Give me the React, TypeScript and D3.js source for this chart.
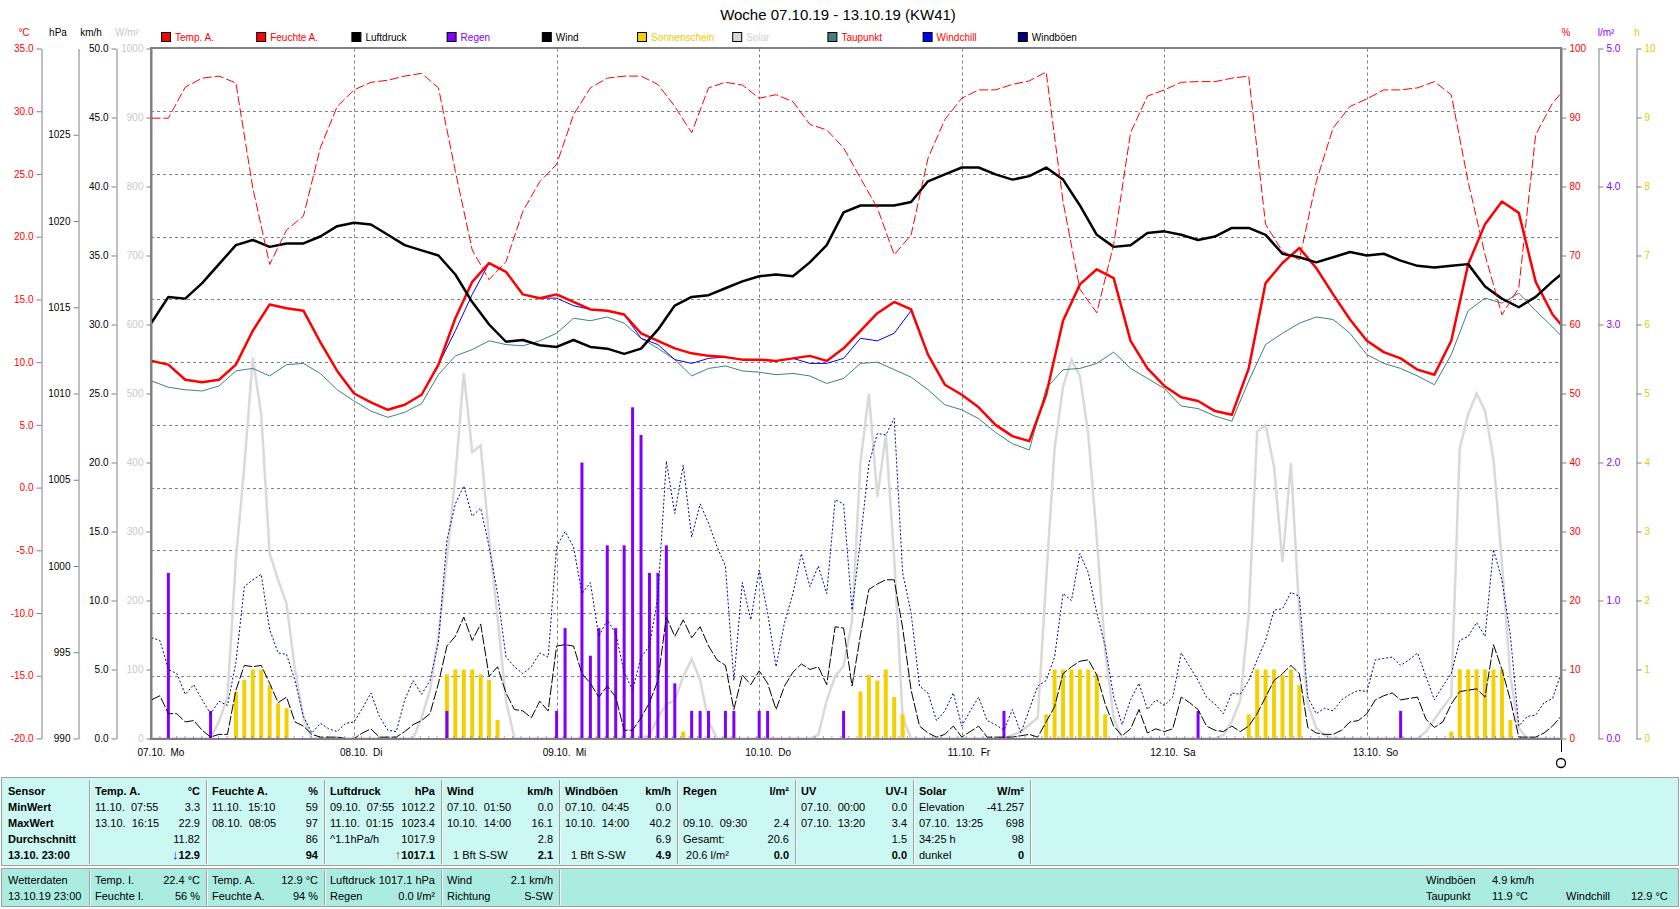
import React, { useRef, useEffect } from 'react';
import * as d3 from 'd3';

// time axis: hours since 07.10. 00:00 (last sample 23:00 on 13.10.)
const HOURS = [...d3.range(0, 168, 2), 167];
const HOURS_1H = d3.range(0, 168);
const DAY_DATES = ['07.10.', '08.10.', '09.10.', '10.10.', '11.10.', '12.10.', '13.10.'];
const DAY_NAMES = ['Mo', 'Di', 'Mi', 'Do', 'Fr', 'Sa', 'So'];

// 2-hourly series
const TEMP = [
    10.1, 9.8, 8.6, 8.4, 8.6, 9.8, 12.5, 14.6, 14.3, 14.1,
    11.6, 9.3, 7.5, 6.8, 6.2, 6.6, 7.4, 9.8, 13.5, 16.4,
    17.9, 17.2, 15.4, 15.1, 15.4, 14.8, 14.2, 14.1, 13.8, 12.3,
    11.7, 11.1, 10.7, 10.5, 10.4, 10.2, 10.2, 10.1, 10.3, 10.5,
    10.1, 11.1, 12.5, 13.9, 14.8, 14.2, 10.6, 8.2, 7.4, 6.4,
    5.0, 4.1, 3.7, 7.4, 13.3, 16.2, 17.4, 16.7, 11.7, 9.5,
    8.1, 7.2, 6.9, 6.1, 5.8, 9.5, 16.3, 17.9, 19.1, 17.5,
    15.4, 13.4, 11.7, 10.8, 10.3, 9.4, 9.0, 11.7, 17.8, 21.0,
    22.8, 21.9, 16.4, 13.8, 13.0,
];
const WINDCHILL = [
    10.1, 9.8, 8.6, 8.4, 8.6, 9.8, 12.5, 14.6, 14.3, 14.1,
    11.6, 9.3, 7.5, 6.8, 6.2, 6.6, 7.4, 9.8, 12.5, 15.4,
    17.9, 17.2, 15.4, 15.1, 15.1, 14.5, 14.2, 14.1, 13.8, 11.9,
    11.4, 10.2, 9.9, 10.3, 10.4, 10.2, 10.2, 10.1, 10.3, 9.9,
    9.9, 10.3, 11.9, 11.7, 12.3, 14.1, 10.6, 8.2, 7.4, 6.4,
    5.0, 4.1, 3.7, 7.4, 13.3, 16.2, 17.4, 16.7, 11.7, 9.5,
    8.1, 7.2, 6.9, 6.1, 5.8, 9.5, 16.3, 17.9, 19.1, 17.5,
    15.4, 13.4, 11.7, 10.8, 10.3, 9.4, 9.0, 11.7, 17.8, 21.0,
    22.8, 21.9, 16.4, 13.8, 13.0,
];
const DEWPOINT = [
    8.5, 8.0, 7.8, 7.7, 8.1, 9.3, 9.5, 8.9, 9.8, 9.9,
    9.1, 7.8, 6.9, 6.1, 5.6, 6.0, 6.7, 9.0, 10.5, 11.0,
    11.7, 11.4, 11.3, 11.7, 12.3, 13.5, 13.3, 13.6, 13.1, 11.9,
    11.1, 10.2, 8.9, 9.5, 9.7, 9.3, 9.2, 9.0, 9.1, 8.9,
    8.3, 8.7, 9.9, 10.0, 9.4, 8.8, 7.8, 6.6, 6.2, 5.5,
    4.4, 3.5, 3.0, 7.9, 9.4, 9.5, 9.9, 10.8, 9.5, 8.7,
    7.9, 6.5, 6.3, 5.7, 5.3, 8.5, 11.4, 12.3, 13.1, 13.6,
    13.4, 12.3, 10.6, 9.9, 9.5, 8.9, 8.2, 10.6, 14.1, 15.1,
    14.7, 15.5, 14.1, 12.8, 12.1,
];
const HUMIDITY = [
    89.9, 89.9, 94.4, 95.7, 96.0, 95.0, 79.8, 68.7, 73.7, 75.7,
    85.6, 91.6, 94.0, 95.1, 95.4, 96.0, 96.4, 94.3, 82.2, 70.8,
    66.5, 69.1, 76.4, 80.7, 83.2, 90.4, 94.3, 95.7, 96.0, 96.0,
    94.8, 91.6, 87.8, 94.3, 95.1, 94.7, 92.8, 93.3, 92.3, 89.0,
    88.2, 85.6, 81.2, 76.9, 70.1, 73.0, 84.1, 89.7, 92.8, 94.0,
    94.0, 94.8, 95.3, 96.6, 77.8, 65.1, 61.7, 71.6, 87.8, 93.1,
    94.0, 95.1, 95.2, 95.2, 95.7, 96.0, 74.5, 70.6, 69.4, 80.7,
    88.5, 91.6, 92.7, 94.0, 94.0, 94.3, 95.2, 93.3, 80.7, 70.1,
    61.4, 65.3, 87.5, 92.1, 93.5,
];
const PRESSURE = [
    1014.1, 1015.6, 1015.5, 1016.4, 1017.5, 1018.6, 1018.9, 1018.5, 1018.7, 1018.7,
    1019.1, 1019.7, 1019.9, 1019.8, 1019.2, 1018.6, 1018.3, 1018.0, 1016.9, 1015.3,
    1014.0, 1013.0, 1013.1, 1012.8, 1012.7, 1013.1, 1012.7, 1012.6, 1012.3, 1012.6,
    1013.7, 1015.1, 1015.6, 1015.7, 1016.1, 1016.5, 1016.8, 1016.9, 1016.8, 1017.6,
    1018.6, 1020.5, 1020.9, 1020.9, 1020.9, 1021.1, 1022.3, 1022.7, 1023.1, 1023.1,
    1022.7, 1022.4, 1022.6, 1023.1, 1022.4, 1020.9, 1019.2, 1018.5, 1018.6, 1019.3,
    1019.4, 1019.2, 1018.9, 1019.1, 1019.6, 1019.6, 1019.2, 1018.1, 1017.9, 1017.6,
    1017.9, 1018.2, 1018.0, 1018.1, 1017.7, 1017.4, 1017.3, 1017.4, 1017.5, 1016.2,
    1015.5, 1015.0, 1015.6, 1016.5, 1016.9,
];

// hourly series
const WIND = [
    2.8, 3.1, 1.8, 1.8, 1.2, 1.3, 0.6, 0.1, 0.3, 0.3,
    3.5, 5.3, 5.2, 5.3, 4.0, 2.6, 3.0, 1.2, 0.9, 0.3,
    0.1, 0.1, 0.1, 0.0, 0.0, 0.4, 0.7, 0.1, 0.1, 0.1,
    0.5, 1.0, 1.3, 1.8, 4.0, 6.7, 7.4, 8.8, 7.1, 8.3,
    4.5, 5.2, 3.3, 2.1, 2.0, 1.5, 2.7, 2.0, 6.7, 6.8,
    6.7, 4.7, 4.0, 3.0, 3.8, 3.0, 0.6, 0.6, 1.5, 2.6,
    4.2, 8.8, 7.4, 8.6, 7.3, 8.1, 6.7, 5.7, 5.3, 2.1,
    4.6, 3.9, 4.9, 4.0, 2.1, 3.8, 4.8, 5.4, 5.0, 5.2,
    3.9, 8.1, 8.0, 3.8, 7.5, 10.8, 11.2, 11.5, 11.5, 8.0,
    3.5, 0.9, 0.4, 0.1, 0.3, 0.9, 0.1, 0.5, 0.9, 0.1,
    0.1, 0.1, 0.1, 0.2, 0.3, 0.1, 1.2, 2.3, 4.7, 5.2,
    5.6, 5.7, 4.6, 2.5, 0.9, 0.2, 0.7, 2.1, 0.4, 0.7,
    0.5, 0.7, 3.0, 2.6, 2.1, 0.9, 0.6, 0.5, 0.9, 0.5,
    0.9, 1.8, 3.0, 4.2, 4.7, 5.3, 4.7, 0.8, 0.4, 0.3,
    0.3, 0.6, 1.2, 1.3, 1.8, 2.8, 3.1, 3.3, 2.8, 2.9,
    3.0, 1.4, 0.8, 1.2, 2.5, 3.4, 3.5, 3.6, 3.0, 6.8,
    5.0, 2.8, 0.1, 0.1, 0.1, 0.4, 0.9, 1.6,
];
const GUSTS = [
    7.3, 7.1, 5.0, 4.7, 3.2, 3.9, 2.8, 1.8, 2.7, 2.4,
    5.5, 11.0, 11.5, 11.9, 7.9, 6.2, 6.1, 4.2, 1.6, 0.4,
    1.1, 0.7, 0.5, 1.1, 1.2, 2.2, 3.3, 1.6, 0.6, 0.5,
    2.8, 4.2, 3.2, 4.2, 7.0, 14.4, 17.0, 18.3, 16.1, 16.7,
    13.9, 10.5, 5.9, 5.2, 4.7, 5.2, 6.2, 5.9, 13.9, 15.0,
    13.9, 10.5, 11.3, 7.4, 8.6, 7.6, 4.8, 3.5, 5.9, 6.7,
    10.3, 20.1, 16.3, 19.8, 14.6, 17.0, 15.6, 13.9, 12.5, 4.2,
    11.3, 8.6, 12.2, 9.1, 5.2, 8.4, 10.5, 13.4, 11.0, 12.5,
    10.5, 17.3, 17.0, 9.3, 14.4, 19.9, 22.1, 22.0, 23.2, 12.0,
    9.1, 3.8, 3.3, 1.3, 2.0, 3.3, 0.9, 2.0, 3.0, 1.3,
    1.0, 0.6, 2.1, 0.4, 2.1, 3.8, 4.2, 5.9, 10.5, 10.0,
    13.4, 12.0, 9.1, 6.7, 3.0, 1.0, 2.8, 4.0, 2.1, 2.8,
    2.4, 3.0, 6.2, 5.2, 4.2, 3.0, 2.5, 1.8, 3.3, 3.2,
    4.2, 5.7, 7.1, 9.3, 9.4, 10.6, 10.3, 3.0, 1.8, 2.2,
    2.0, 2.8, 3.2, 3.5, 3.4, 5.7, 5.8, 5.9, 5.3, 5.7,
    6.2, 4.5, 2.8, 3.8, 4.7, 7.1, 7.4, 8.4, 7.4, 13.7,
    11.5, 7.5, 0.9, 1.6, 1.7, 2.6, 2.9, 4.7,
];

// [hour, W/m²]
const SOLAR: [number, number][] = [
    [0, 0], [7, 0], [8, 25], [9, 60], [10, 260], [11, 395], [12, 552], [13, 470], [14, 268],
    [15, 230], [16, 195], [17, 100], [18, 30], [19, 0],
    [31, 0], [32, 30], [33, 70], [34, 150], [35, 260], [36, 380], [37, 530], [38, 415],
    [39, 425], [40, 290], [41, 175], [42, 55], [43, 0],
    [58, 0], [59, 5], [60, 30], [61, 50], [62, 55], [63, 90], [64, 115], [65, 85], [66, 25], [67, 0],
    [78, 0], [79, 5], [80, 55], [81, 90], [82, 105], [83, 170], [84, 400], [85, 500], [86, 350],
    [87, 440], [88, 260], [89, 30], [90, 0],
    [101, 0], [102, 5], [103, 10], [104, 20], [105, 30], [106, 230], [107, 420], [108, 510],
    [109, 549], [110, 525], [111, 440], [112, 290], [113, 125], [114, 30], [115, 0],
    [126, 0], [127, 5], [128, 25], [129, 55], [130, 180], [131, 445], [132, 454], [133, 394],
    [134, 256], [135, 399], [136, 180], [137, 50], [138, 15], [139, 5], [140, 0],
    [150, 0], [151, 10], [152, 28], [153, 45], [154, 61], [155, 420], [156, 470], [157, 500],
    [158, 475], [159, 405], [160, 255], [161, 90], [162, 15], [163, 0], [167, 0],
];
// [hour, l/m²]
const RAIN: [number, number][] = [
    [2, 1.2], [7, 0.2], [35, 0.2], [48, 0.2], [49, 0.8], [51, 2.0], [52, 0.6], [53, 0.8],
    [54, 1.4], [55, 0.8], [56, 1.4], [57, 2.4], [58, 2.2], [59, 1.2], [60, 1.2], [61, 1.4],
    [62, 0.4], [64, 0.2], [65, 0.2], [66, 0.2], [68, 0.2], [69, 0.2], [72, 0.2], [73, 0.2],
    [82, 0.2], [101, 0.2], [124, 0.2], [148, 0.2],
];
// [hour, h of sunshine]
const SUNSHINE: [number, number][] = [
    [10, 0.68], [11, 0.85], [12, 1.0], [13, 1.0], [14, 0.77], [15, 0.51], [16, 0.44],
    [35, 0.93], [36, 1.0], [37, 1.0], [38, 1.0], [39, 0.93], [40, 0.85], [41, 0.27],
    [63, 0.1],
    [84, 0.68], [85, 0.92], [86, 0.84], [87, 1.0], [88, 0.6], [89, 0.35],
    [106, 0.35], [107, 1.0], [108, 1.0], [109, 1.0], [110, 1.0], [111, 1.0], [112, 0.93], [113, 0.35],
    [130, 0.35], [131, 1.0], [132, 1.0], [133, 1.0], [134, 0.92], [135, 1.0], [136, 0.77],
    [154, 0.1], [155, 1.0], [156, 1.0], [157, 1.0], [158, 1.0], [159, 1.0], [160, 1.0], [161, 0.27],
];

const TEMP_TICKS = [-20, -15, -10, -5, 0, 5, 10, 15, 20, 25, 30, 35];
const HPA_TICKS = [990, 995, 1000, 1005, 1010, 1015, 1020, 1025];
const KMH_TICKS = [0, 5, 10, 15, 20, 25, 30, 35, 40, 45, 50];
const SOLAR_TICKS = [0, 100, 200, 300, 400, 500, 600, 700, 800, 900, 1000];
const PCT_TICKS = [0, 10, 20, 30, 40, 50, 60, 70, 80, 90, 100];
const RAIN_TICKS = [0, 1, 2, 3, 4, 5];
const SUN_TICKS = [0, 1, 2, 3, 4, 5, 6, 7, 8, 9, 10];

const LEGEND_LABELS = ['Temp. A.', 'Feuchte A.', 'Luftdruck', 'Regen', 'Wind', 'Sonnenschein', 'Solar', 'Taupunkt', 'Windchill', 'Windböen'];
const LEGEND_BOX = ['#ff0000', '#ff0000', '#000000', '#8000ff', '#000000', '#f5d000', '#d8d8d8', '#408080', '#0000ff', '#000080'];
const LEGEND_TEXT = ['#ff0000', '#ff0000', '#000000', '#8000ff', '#000000', '#f0c800', '#d0d0d0', '#ff0000', '#ff0000', '#000000'];

const TABLE_ROWS: [string, string][][] = [
    [['Sensor', ''], ['Temp. A.', '°C'], ['Feuchte A.', '%'], ['Luftdruck', 'hPa'], ['Wind', 'km/h'], ['Windböen', 'km/h'], ['Regen', 'l/m²'], ['UV', 'UV-I'], ['Solar', 'W/m²']],
    [['MinWert', ''], ['11.10.  07:55', '3.3'], ['11.10.  15:10', '59'], ['09.10.  07:55', '1012.2'], ['07.10.  01:50', '0.0'], ['07.10.  04:45', '0.0'], ['', ''], ['07.10.  00:00', '0.0'], ['Elevation', '-41.257']],
    [['MaxWert', ''], ['13.10.  16:15', '22.9'], ['08.10.  08:05', '97'], ['11.10.  01:15', '1023.4'], ['10.10.  14:00', '16.1'], ['10.10.  14:00', '40.2'], ['09.10.  09:30', '2.4'], ['07.10.  13:20', '3.4'], ['07.10.  13:25', '698']],
    [['Durchschnitt', ''], ['', '11.82'], ['', '86'], ['^1.1hPa/h', '1017.9'], ['', '2.8'], ['', '6.9'], ['Gesamt:', '20.6'], ['', '1.5'], ['34:25 h', '98']],
    [['13.10. 23:00', ''], ['', '↓12.9'], ['', '94'], ['', '↑1017.1'], ['  1 Bft S-SW', '2.1'], ['  1 Bft S-SW', '4.9'], [' 20.6 l/m²', '0.0'], ['', '0.0'], ['dunkel', '0']],
];
const INFO_ROWS: [string, string][][] = [
    [['Wetterdaten', ''], ['Temp. I.', '22.4 °C'], ['Temp. A.', '12.9 °C'], ['Luftdruck', '1017.1 hPa'], ['Wind', '2.1 km/h']],
    [['13.10.19 23:00', ''], ['Feuchte I.', '56 %'], ['Feuchte A.', '94 %'], ['Regen', '0.0 l/m²'], ['Richtung', 'S-SW']],
];
const INFO_RIGHT = [['Windböen', '4.9 km/h'], ['Taupunkt', '11.9 °C'], ['Windchill', '12.9 °C']];

const FONT = '"Liberation Sans", Arial, sans-serif';

const App: React.FC = () => {
    const svgRef = useRef<SVGSVGElement | null>(null);

    useEffect(() => {
        if (!svgRef.current) return;
        const svg = d3.select(svgRef.current);
        svg.selectAll('*').remove();

        const left = 151;
        const right = 1561;
        const top = 48.5;
        const bottom = 738.5;

        const x = d3.scaleLinear().domain([0, 167]).range([151.5, 1561]);
        const yTemp = d3.scaleLinear().domain([-20, 35]).range([bottom, top]);
        const yHpa = d3.scaleLinear().domain([990, 1030]).range([bottom, top]);
        const yKmh = d3.scaleLinear().domain([0, 50]).range([bottom, top]);
        const ySolar = d3.scaleLinear().domain([0, 1000]).range([bottom, top]);
        const yPct = d3.scaleLinear().domain([0, 100]).range([bottom, top]);
        const yRain = d3.scaleLinear().domain([0, 5]).range([bottom, top]);
        const ySun = d3.scaleLinear().domain([0, 10]).range([bottom, top]);

        svg.append('rect').attr('width', 1680).attr('height', 909).attr('fill', '#ffffff');

        // title
        svg.append('text')
            .attr('x', 838)
            .attr('y', 20)
            .attr('text-anchor', 'middle')
            .attr('font-family', FONT)
            .attr('font-size', 15)
            .text('Woche 07.10.19 - 13.10.19 (KW41)');

        // unit headers
        const units: [string, number, string][] = [
            ['°C', 24, '#ff0000'], ['hPa', 58, '#000000'], ['km/h', 91, '#000000'], ['W/m²', 127, '#c8c8c8'],
            ['%', 1566, '#ff0000'], ['l/m²', 1606, '#8000ff'], ['h', 1637, '#f0c800'],
        ];
        units.forEach(([t, ux, c]) => {
            svg.append('text')
                .attr('x', ux).attr('y', 36)
                .attr('text-anchor', 'middle')
                .attr('font-family', FONT).attr('font-size', 10)
                .attr('fill', c)
                .text(t);
        });

        // legend
        LEGEND_LABELS.forEach((label, i) => {
            const lx = 161 + i * 95.2;
            svg.append('rect')
                .attr('x', lx + 0.5).attr('y', 32.5)
                .attr('width', 9).attr('height', 9)
                .attr('fill', LEGEND_BOX[i])
                .attr('stroke', '#000000').attr('stroke-width', 1);
            svg.append('text')
                .attr('x', lx + 14).attr('y', 41)
                .attr('font-family', FONT).attr('font-size', 10)
                .attr('fill', LEGEND_TEXT[i])
                .text(label);
        });

        // grid
        const grid = svg.append('g')
            .attr('stroke', '#808080')
            .attr('stroke-width', 1)
            .attr('stroke-dasharray', '3 3');
        TEMP_TICKS.slice(1, -1).forEach((t) => {
            const gy = Math.round(yTemp(t)) + 0.5;
            grid.append('line').attr('x1', left).attr('x2', right).attr('y1', gy).attr('y2', gy);
        });
        DAY_DATES.slice(1).forEach((_, i) => {
            const gx = Math.round(x(24 * (i + 1))) + 0.5;
            grid.append('line').attr('x1', gx).attr('x2', gx).attr('y1', top).attr('y2', bottom);
        });

        // axes
        const axisAt = (axis: d3.Axis<d3.NumberValue>, ax: number, color: string) => {
            const g = svg.append('g').attr('transform', `translate(${ax},0)`).call(axis);
            g.select('.domain').attr('stroke', '#808080');
            g.selectAll('.tick line').attr('stroke', '#808080');
            g.selectAll('text')
                .attr('fill', color)
                .attr('font-family', FONT)
                .attr('font-size', 10);
        };
        axisAt(d3.axisLeft(yTemp).tickValues(TEMP_TICKS).tickFormat((d) => (+d).toFixed(1)).tickSize(5).tickSizeOuter(0), 41.5, '#ff0000');
        axisAt(d3.axisLeft(yHpa).tickValues(HPA_TICKS).tickFormat((d) => String(d)).tickSize(5).tickSizeOuter(0), 78.5, '#000000');
        axisAt(d3.axisLeft(yKmh).tickValues(KMH_TICKS).tickFormat((d) => (+d).toFixed(1)).tickSize(5).tickSizeOuter(0), 116.5, '#000000');
        axisAt(d3.axisLeft(ySolar).tickValues(SOLAR_TICKS).tickFormat((d) => String(d)).tickSize(5).tickSizeOuter(0), 151.5, '#c8c8c8');
        axisAt(d3.axisRight(yPct).tickValues(PCT_TICKS).tickFormat((d) => String(d)).tickSize(5).tickSizeOuter(0), 1561.5, '#ff0000');
        axisAt(d3.axisRight(yRain).tickValues(RAIN_TICKS).tickFormat((d) => (+d).toFixed(1)).tickSize(5).tickSizeOuter(0), 1598.5, '#8000ff');
        axisAt(d3.axisRight(ySun).tickValues(SUN_TICKS).tickFormat((d) => String(d)).tickSize(5).tickSizeOuter(0), 1636.5, '#f0c800');

        // x labels
        DAY_DATES.forEach((d, i) => {
            const dx = x(24 * i);
            svg.append('text')
                .attr('x', dx - 14).attr('y', 756)
                .attr('font-family', FONT).attr('font-size', 10)
                .text(d);
            svg.append('text')
                .attr('x', dx + 19).attr('y', 756)
                .attr('font-family', FONT).attr('font-size', 10)
                .text(DAY_NAMES[i]);
        });

        const plot = svg.append('g');

        // solar
        plot.append('path')
            .datum(SOLAR)
            .attr('fill', 'none')
            .attr('stroke', '#d9d9d9')
            .attr('stroke-width', 2.5)
            .attr('d', d3.line<[number, number]>().x((d) => x(d[0])).y((d) => ySolar(d[1])));

        // sunshine bars
        plot.selectAll('.sun')
            .data(SUNSHINE)
            .enter()
            .append('rect')
            .attr('class', 'sun')
            .attr('x', (d) => x(d[0]) - 2)
            .attr('width', 4)
            .attr('y', (d) => ySun(d[1]))
            .attr('height', (d) => bottom - ySun(d[1]))
            .attr('fill', '#f5d000');

        // rain bars
        plot.selectAll('.rain')
            .data(RAIN)
            .enter()
            .append('rect')
            .attr('class', 'rain')
            .attr('x', (d) => x(d[0]) - 1.5)
            .attr('width', 3)
            .attr('y', (d) => yRain(d[1]))
            .attr('height', (d) => bottom - yRain(d[1]))
            .attr('fill', '#8000ff');

        plot.append('line')
            .attr('x1', left).attr('x2', right)
            .attr('y1', bottom - 1.5).attr('y2', bottom - 1.5)
            .attr('stroke', '#8000ff')
            .attr('stroke-dasharray', '1 7.4');

        const series = (vals: number[], hours: number[], y: d3.ScaleLinear<number, number>, color: string, width: number, dash?: string) => {
            const p = plot.append('path')
                .datum(vals)
                .attr('fill', 'none')
                .attr('stroke', color)
                .attr('stroke-width', width)
                .attr('stroke-linejoin', 'round')
                .attr('d', d3.line<number>().x((_, i) => x(hours[i])).y((d) => y(d)));
            if (dash) p.attr('stroke-dasharray', dash);
        };

        series(GUSTS, HOURS_1H, yKmh, '#0000a0', 1, '2 2');
        series(WIND, HOURS_1H, yKmh, '#000000', 1, '10 2');
        series(DEWPOINT, HOURS, yTemp, '#408080', 1);
        series(WINDCHILL, HOURS, yTemp, '#0000ff', 1);
        series(TEMP, HOURS, yTemp, '#ff0000', 2.5);
        series(PRESSURE, HOURS, yHpa, '#000000', 2.5);
        series(HUMIDITY, HOURS, yPct, '#ff0000', 1, '9 3');

        // plot frame
        const frame = svg.append('g').attr('stroke', '#808080').attr('stroke-width', 2);
        frame.append('line').attr('x1', 150).attr('x2', 1562).attr('y1', 48).attr('y2', 48);
        frame.append('line').attr('x1', 150).attr('x2', 1562).attr('y1', 739).attr('y2', 739);
        frame.append('line').attr('x1', 151).attr('x2', 151).attr('y1', 47).attr('y2', 740);
        frame.append('line').attr('x1', 1561).attr('x2', 1561).attr('y1', 47).attr('y2', 740);
        svg.append('line')
            .attr('x1', 1561.5).attr('x2', 1561.5).attr('y1', 740).attr('y2', 752)
            .attr('stroke', '#000000');
        svg.append('circle')
            .attr('cx', 1561).attr('cy', 763).attr('r', 4.5)
            .attr('fill', 'none').attr('stroke', '#000000').attr('stroke-width', 1.3);

        // table
        const tbl = svg.append('g').attr('font-family', FONT).attr('font-size', 11);
        tbl.append('rect')
            .attr('x', 1.5).attr('y', 777.5).attr('width', 1677).attr('height', 88)
            .attr('fill', '#ccf8f4').attr('stroke', '#a0a0a0');
        tbl.append('rect')
            .attr('x', 1.5).attr('y', 868.5).attr('width', 1677).attr('height', 38)
            .attr('fill', '#aaece0').attr('stroke', '#a0a0a0');

        const colX = [2, 89, 206, 324, 441, 559, 677, 795, 913, 1030];
        colX.slice(1).forEach((cx) => {
            tbl.append('line').attr('x1', cx + 0.5).attr('x2', cx + 0.5).attr('y1', 780).attr('y2', 864).attr('stroke', '#a0a0a0');
            tbl.append('line').attr('x1', cx + 1.5).attr('x2', cx + 1.5).attr('y1', 780).attr('y2', 864).attr('stroke', '#ffffff');
        });
        colX.slice(1, 6).forEach((cx) => {
            tbl.append('line').attr('x1', cx + 0.5).attr('x2', cx + 0.5).attr('y1', 870).attr('y2', 905).attr('stroke', '#a0a0a0');
            tbl.append('line').attr('x1', cx + 1.5).attr('x2', cx + 1.5).attr('y1', 870).attr('y2', 905).attr('stroke', '#ffffff');
        });

        TABLE_ROWS.forEach((row, r) => {
            const ty = 795 + r * 16;
            row.forEach(([label, value], c) => {
                const boldLabel = r === 0 || c === 0;
                const boldValue = r === 0 || r === 4;
                tbl.append('text')
                    .attr('x', c === 0 ? 8 : colX[c] + 6)
                    .attr('y', ty)
                    .attr('font-weight', boldLabel ? 'bold' : 'normal')
                    .style('white-space', 'pre')
                    .text(label);
                if (!value) return;
                const t = tbl.append('text')
                    .attr('x', colX[c + 1] - 6)
                    .attr('y', ty)
                    .attr('text-anchor', 'end')
                    .attr('font-weight', boldValue ? 'bold' : 'normal');
                if (value.startsWith('↓') || value.startsWith('↑')) {
                    t.append('tspan')
                        .attr('fill', value.startsWith('↓') ? '#0000ff' : '#803000')
                        .attr('font-size', 13)
                        .text(value[0]);
                    t.append('tspan').text(value.slice(1));
                } else {
                    t.text(value);
                }
            });
        });

        INFO_ROWS.forEach((row, r) => {
            const ty = 884 + r * 16;
            row.forEach(([label, value], c) => {
                tbl.append('text')
                    .attr('x', c === 0 ? 8 : colX[c] + 6)
                    .attr('y', ty)
                    .text(label);
                if (value) {
                    tbl.append('text')
                        .attr('x', colX[c + 1] - 6)
                        .attr('y', ty)
                        .attr('text-anchor', 'end')
                        .text(value);
                }
            });
        });
        const infoPos: [number, number, number][] = [[1426, 1492, 884], [1426, 1492, 900], [1566, 1631, 900]];
        INFO_RIGHT.forEach(([label, value], i) => {
            const [lx, vx, ty] = infoPos[i];
            tbl.append('text').attr('x', lx).attr('y', ty).text(label);
            tbl.append('text').attr('x', vx).attr('y', ty).text(value);
        });
    }, []);

    return (
        <svg
            ref={svgRef}
            width={1680}
            height={909}
            style={{ position: 'absolute', left: 0, top: 0, display: 'block' }}
        ></svg>
    );
};

export default App;
